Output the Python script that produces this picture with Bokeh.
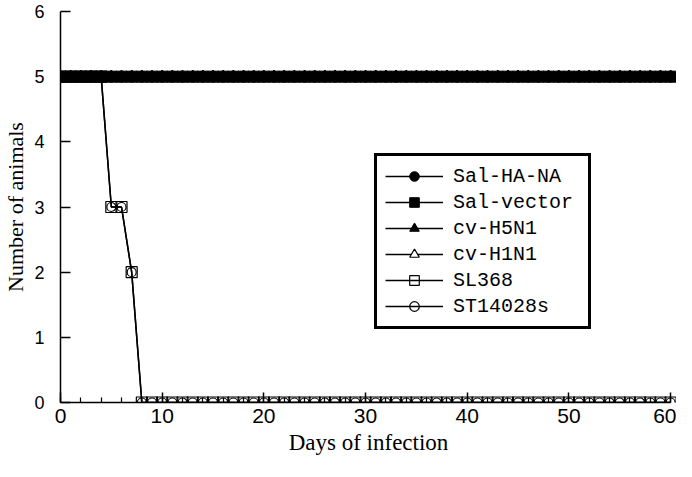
from bokeh.plotting import figure
from bokeh.models import Legend, LegendItem, Range1d, SingleIntervalTicker
from bokeh.embed import file_html
from bokeh.resources import INLINE

days = list(range(0, 61))

sal_ha_na = [5, 5, 5, 5, 5, 5, 5, 5, 5, 5,
             5, 5, 5, 5, 5, 5, 5, 5, 5, 5,
             5, 5, 5, 5, 5, 5, 5, 5, 5, 5,
             5, 5, 5, 5, 5, 5, 5, 5, 5, 5,
             5, 5, 5, 5, 5, 5, 5, 5, 5, 5,
             5, 5, 5, 5, 5, 5, 5, 5, 5, 5,
             5]
sal_vector = [5, 5, 5, 5, 5, 5, 5, 5, 5, 5,
              5, 5, 5, 5, 5, 5, 5, 5, 5, 5,
              5, 5, 5, 5, 5, 5, 5, 5, 5, 5,
              5, 5, 5, 5, 5, 5, 5, 5, 5, 5,
              5, 5, 5, 5, 5, 5, 5, 5, 5, 5,
              5, 5, 5, 5, 5, 5, 5, 5, 5, 5,
              5]
cv_h5n1 = [5, 5, 5, 5, 5, 5, 5, 5, 5, 5,
           5, 5, 5, 5, 5, 5, 5, 5, 5, 5,
           5, 5, 5, 5, 5, 5, 5, 5, 5, 5,
           5, 5, 5, 5, 5, 5, 5, 5, 5, 5,
           5, 5, 5, 5, 5, 5, 5, 5, 5, 5,
           5, 5, 5, 5, 5, 5, 5, 5, 5, 5,
           5]
cv_h1n1 = [5, 5, 5, 5, 5, 5, 5, 5, 5, 5,
           5, 5, 5, 5, 5, 5, 5, 5, 5, 5,
           5, 5, 5, 5, 5, 5, 5, 5, 5, 5,
           5, 5, 5, 5, 5, 5, 5, 5, 5, 5,
           5, 5, 5, 5, 5, 5, 5, 5, 5, 5,
           5, 5, 5, 5, 5, 5, 5, 5, 5, 5,
           5]
sl368 = [5, 5, 5, 5, 5, 3, 3, 2, 0, 0,
         0, 0, 0, 0, 0, 0, 0, 0, 0, 0,
         0, 0, 0, 0, 0, 0, 0, 0, 0, 0,
         0, 0, 0, 0, 0, 0, 0, 0, 0, 0,
         0, 0, 0, 0, 0, 0, 0, 0, 0, 0,
         0, 0, 0, 0, 0, 0, 0, 0, 0, 0,
         0]
st14028s = [5, 5, 5, 5, 5, 3, 3, 2, 0, 0,
            0, 0, 0, 0, 0, 0, 0, 0, 0, 0,
            0, 0, 0, 0, 0, 0, 0, 0, 0, 0,
            0, 0, 0, 0, 0, 0, 0, 0, 0, 0,
            0, 0, 0, 0, 0, 0, 0, 0, 0, 0,
            0, 0, 0, 0, 0, 0, 0, 0, 0, 0,
            0]

labels = ["Sal-HA-NA", "Sal-vector", "cv-H5N1", "cv-H1N1", "SL368", "ST14028s"]

p = figure(width=676, height=461,
           x_range=Range1d(0, 60.58), y_range=Range1d(0, 6.0),
           output_backend="svg", toolbar_location=None,
           min_border_left=55, min_border_right=0,
           min_border_top=11, min_border_bottom=59)
p.outline_line_color = None
p.xgrid.visible = False
p.ygrid.visible = False

# open-marker series first (band series drawn on top)
l_sl = p.line(days, sl368, line_color="black", line_width=1.5)
s_sl = p.scatter(days, sl368, marker="square", size=11, fill_color=None,
                 line_color="black", line_width=1.2)
l_st = p.line(days, st14028s, line_color="black", line_width=1.5)
s_st = p.scatter(days, st14028s, marker="circle", size=9, fill_color=None,
                 line_color="black", line_width=1.2)

l_h1 = p.line(days, cv_h1n1, line_color="black", line_width=1.5)
s_h1 = p.scatter(days, cv_h1n1, marker="triangle", size=11, fill_color="white",
                 line_color="black", line_width=1.2)
l_h5 = p.line(days, cv_h5n1, line_color="black", line_width=1.5)
s_h5 = p.scatter(days, cv_h5n1, marker="triangle", size=11, fill_color="black",
                 line_color="black")
l_sv = p.line(days, sal_vector, line_color="black", line_width=1.5)
s_sv = p.scatter(days, sal_vector, marker="square", size=11, fill_color="black",
                 line_color="black")
l_ha = p.line(days, sal_ha_na, line_color="black", line_width=1.5)
s_ha = p.scatter(days, sal_ha_na, marker="circle", size=11, fill_color="black",
                 line_color="black")

# axes
p.xaxis.bounds = (0, 60)
p.xaxis.ticker = SingleIntervalTicker(interval=10, num_minor_ticks=5)
p.yaxis.ticker = SingleIntervalTicker(interval=1, num_minor_ticks=0)
for ax in (p.xaxis, p.yaxis):
    ax.axis_line_color = "black"
    ax.axis_line_width = 1.5
    ax.major_tick_line_color = "black"
    ax.major_tick_line_width = 1.5
    ax.major_tick_in = 10
    ax.major_tick_out = 0
    ax.minor_tick_line_color = "black"
    ax.minor_tick_line_width = 1.2
    ax.minor_tick_in = 5
    ax.minor_tick_out = 0
    ax.major_label_text_color = "black"
    ax.axis_label_text_color = "black"
    ax.axis_label_text_font = "Liberation Serif"
    ax.axis_label_text_font_style = "normal"
p.yaxis.minor_tick_line_color = None
p.xaxis.major_label_text_font = "Liberation Sans"
p.xaxis.major_label_text_font_size = "21px"
p.xaxis.major_label_standoff = 6
p.yaxis.major_label_text_font = "Liberation Sans"
p.yaxis.major_label_text_font_size = "18px"
p.yaxis.major_label_standoff = 16
p.xaxis.axis_label = "Days of infection"
p.yaxis.axis_label = "Number of animals"
p.xaxis.axis_label_text_font_size = "23px"
p.yaxis.axis_label_text_font_size = "22px"
p.xaxis.axis_label_standoff = 4
p.yaxis.axis_label_standoff = 3

legend = Legend(items=[
    LegendItem(label=labels[0], renderers=[l_ha, s_ha]),
    LegendItem(label=labels[1], renderers=[l_sv, s_sv]),
    LegendItem(label=labels[2], renderers=[l_h5, s_h5]),
    LegendItem(label=labels[3], renderers=[l_h1, s_h1]),
    LegendItem(label=labels[4], renderers=[l_sl, s_sl]),
    LegendItem(label=labels[5], renderers=[l_st, s_st]),
], location=(314, 73))
legend.border_line_color = "black"
legend.border_line_alpha = 1
legend.border_line_width = 3
legend.background_fill_color = "white"
legend.background_fill_alpha = 1
legend.label_text_font = "Liberation Mono"
legend.label_text_font_size = "20px"
legend.label_text_color = "black"
legend.glyph_width = 58
legend.glyph_height = 24
legend.label_height = 24
legend.label_width = 127
legend.label_standoff = 10
legend.spacing = 2
legend.padding = 8
legend.margin = 0
p.add_layout(legend)

open("out.html", "w").write(file_html(p, INLINE))
